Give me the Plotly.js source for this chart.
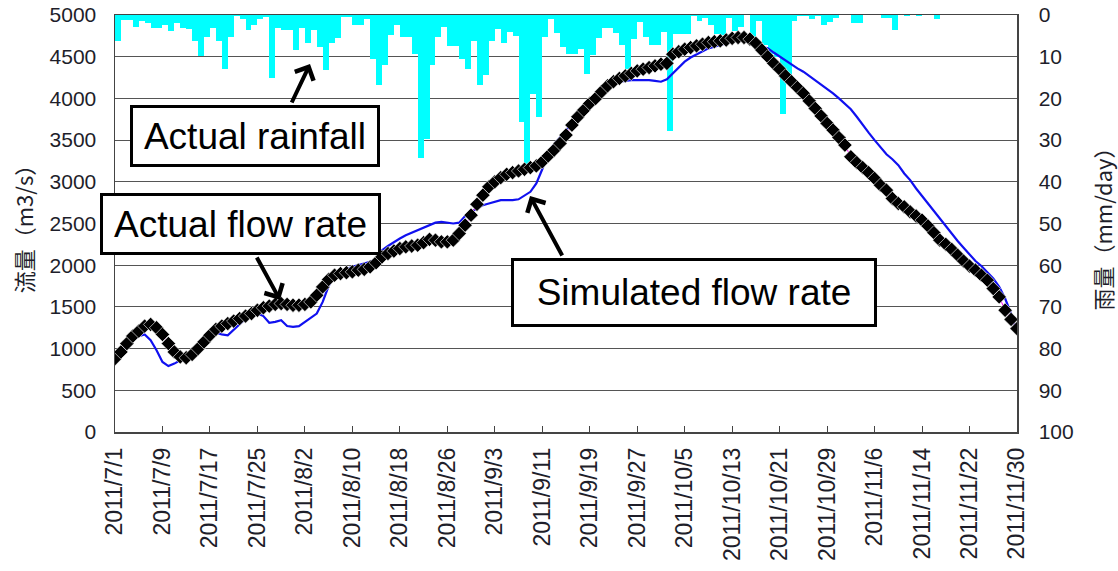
<!DOCTYPE html>
<html>
<head>
<meta charset="utf-8">
<script src="https://cdn.plot.ly/plotly-3.0.1.min.js"></script>
<style>html,body{margin:0;padding:0;background:#fff;}#chart{width:1118px;height:571px;}</style>
</head>
<body>
<div id="chart"></div>
<script>
// ---- data ----
const startDate = '2011-07-01';
const dayCount = 153;

// daily rainfall (mm/day), Jul 1 .. Nov 30
const rainfall = [
 6.2,1.2,1.2,2.9,1.4,1.8,3.1,3.0,2.4,3.9,
 2.0,3.0,3.4,6.2,9.8,5.3,3.0,6.2,12.9,5.3,
 0.3,1.0,3.6,2.5,1.0,0.4,15.0,3.0,3.6,3.6,
 8.4,3.0,6.7,3.6,7.7,13.1,6.7,5.5,0.5,0.5,
 2.3,2.3,1.0,10.5,16.9,12.1,4.9,2.5,5.3,5.3,
 9.3,34.2,29.7,12.1,5.3,2.9,7.5,7.5,10.5,12.9,
 6.3,16.9,14.5,6.3,3.3,6.6,4.1,5.0,25.7,36.4,
 18.9,24.5,5.3,1.0,4.4,7.7,9.3,9.3,8.2,14.2,
 9.5,5.5,3.1,3.1,4.2,7.1,13.0,5.7,1.7,5.3,
 7.1,7.1,4.1,27.7,4.5,4.5,4.5,0.2,1.5,0.7,
 2.5,4.5,4.7,0.7,3.9,2.9,0,6.1,1.5,7.3,
 9.3,10.1,23.7,16.5,1.5,0.3,0.3,1.0,0.2,2.3,
 1.7,0.7,0.1,0.1,1.8,1.8,0,0,0,0.7,
 0.7,3.7,0,0.2,0,0.2,0,0,1.0,0,
 0,0,0,0,0,0,0,0,0,0,
 0,0,0
];

// actual flow rate (m3/s)
const actualFlow = [
 880,960,1060,1150,1210,1270,1290,1250,1170,1060,
 960,900,890,930,1000,1080,1160,1230,1270,1300,
 1330,1360,1390,1420,1460,1490,1510,1530,1540,1530,
 1520,1520,1530,1560,1640,1740,1830,1880,1900,1910,
 1920,1940,1950,1980,2030,2100,2140,2170,2200,2220,
 2230,2240,2270,2310,2300,2280,2280,2300,2380,2480,
 2600,2730,2840,2940,3000,3050,3090,3110,3130,3150,
 3170,3190,3240,3310,3380,3460,3560,3680,3780,3860,
 3940,4000,4080,4150,4200,4240,4270,4300,4330,4350,
 4370,4390,4410,4420,4530,4560,4590,4610,4630,4650,
 4670,4680,4690,4700,4720,4730,4730,4710,4660,4580,
 4500,4420,4350,4270,4200,4130,4060,3970,3880,3790,
 3700,3620,3530,3440,3300,3230,3170,3110,3040,2960,
 2900,2800,2740,2700,2640,2590,2540,2470,2390,2300,
 2250,2190,2120,2050,1990,1940,1880,1820,1720,1620,
 1460,1350,1240
];

// simulated flow rate (m3/s)
const simulatedFlow = [
 880,950,1030,1100,1150,1170,1100,980,840,790,
 820,860,860,950,1050,1120,1170,1190,1170,1160,
 1230,1300,1360,1410,1420,1390,1310,1320,1340,1270,
 1260,1270,1320,1370,1420,1560,1750,1880,1920,1950,
 1980,2000,2020,2040,2070,2180,2230,2280,2320,2360,
 2390,2420,2450,2480,2510,2520,2510,2500,2510,2590,
 2640,2680,2720,2740,2760,2780,2780,2780,2790,2830,
 2880,2980,3150,3350,3450,3530,3620,3690,3770,3830,
 3880,3960,4040,4110,4170,4200,4210,4220,4220,4220,
 4220,4210,4200,4230,4300,4370,4440,4490,4530,4570,
 4600,4620,4640,4660,4680,4700,4690,4670,4650,4620,
 4600,4550,4500,4450,4400,4360,4320,4270,4220,4170,
 4120,4060,4000,3940,3870,3780,3680,3590,3500,3420,
 3330,3270,3200,3100,3020,2920,2830,2740,2640,2550,
 2460,2370,2290,2210,2130,2050,1990,1920,1840,1740,
 1600,1420,1190
];

const tickDates = ['2011-07-01','2011-07-09','2011-07-17','2011-07-25','2011-08-02','2011-08-10',
 '2011-08-18','2011-08-26','2011-09-03','2011-09-11','2011-09-19','2011-09-27','2011-10-05',
 '2011-10-13','2011-10-21','2011-10-29','2011-11-06','2011-11-14','2011-11-22','2011-11-30'];
const tickLabels = ['2011/7/1','2011/7/9','2011/7/17','2011/7/25','2011/8/2','2011/8/10',
 '2011/8/18','2011/8/26','2011/9/3','2011/9/11','2011/9/19','2011/9/27','2011/10/5',
 '2011/10/13','2011/10/21','2011/10/29','2011/11/6','2011/11/14','2011/11/22','2011/11/30'];

const flowTicks = [0,500,1000,1500,2000,2500,3000,3500,4000,4500,5000];
const rainTicks = [0,10,20,30,40,50,60,70,80,90,100];

// build daily date list
const dates = [];
{
  const d0 = new Date(startDate + 'T00:00:00Z');
  for (let i = 0; i < dayCount; i++) {
    const d = new Date(d0.getTime() + i * 86400000);
    dates.push(d.toISOString().slice(0, 10));
  }
}

const DAY = 86400000;
const tickFont = {family: 'Liberation Sans, Arial, sans-serif', size: 21, color: '#1e1e2a'};
const boxFont = {family: 'Liberation Sans, Arial, sans-serif', size: 37, color: '#000'};
const titleFont = {family: 'Noto Sans CJK JP, sans-serif', size: 22, color: '#1e1e2a'};

const traces = [
  {
    type: 'bar', x: dates, y: rainfall, yaxis: 'y',
    width: DAY, offset: 0,
    marker: {color: '#00ffff', line: {width: 0}},
    hoverinfo: 'skip'
  },
  {
    type: 'scatter', mode: 'lines', x: dates, y: simulatedFlow, yaxis: 'y2',
    line: {color: '#1010f0', width: 2.2}
  },
  {
    type: 'scatter', mode: 'lines+markers', x: dates, y: actualFlow, yaxis: 'y2',
    line: {color: '#ff00ff', width: 1},
    marker: {symbol: 'diamond', size: 11, color: '#000', line: {width: 0.6, color: '#ffffff'}}
  }
];

function px(x){ return (x - 115) / 902; }
function py(y){ return (432 - y) / 417; }

const annotations = [
  // arrows
  {xref:'paper', yref:'paper', x: px(310), y: py(64), ax: -19, ay: 40, text: '', showarrow: true,
   arrowhead: 4, arrowsize: 1, arrowwidth: 4, arrowcolor: '#000', standoff: 0},
  {xref:'paper', yref:'paper', x: px(280), y: py(300), ax: -24, ay: -44, text: '', showarrow: true,
   arrowhead: 4, arrowsize: 1, arrowwidth: 4, arrowcolor: '#000', standoff: 0},
  {xref:'paper', yref:'paper', x: px(530), y: py(196), ax: 33, ay: 61, text: '', showarrow: true,
   arrowhead: 4, arrowsize: 1, arrowwidth: 4, arrowcolor: '#000', standoff: 0},
  // boxes
  {xref:'paper', yref:'paper', x: px(255), y: py(136), text: 'Actual rainfall', showarrow: false,
   font: boxFont, bgcolor: '#fff', bordercolor: '#000', borderwidth: 3, borderpad: 0,
   width: 244, height: 56, xanchor: 'center', yanchor: 'middle'},
  {xref:'paper', yref:'paper', x: px(240.5), y: py(224), text: 'Actual flow rate', showarrow: false,
   font: boxFont, bgcolor: '#fff', bordercolor: '#000', borderwidth: 3, borderpad: 0,
   width: 275, height: 56, xanchor: 'center', yanchor: 'middle'},
  {xref:'paper', yref:'paper', x: px(694), y: py(292.5), text: 'Simulated flow rate', showarrow: false,
   font: boxFont, bgcolor: '#fff', bordercolor: '#000', borderwidth: 3, borderpad: 0,
   width: 360, height: 63, xanchor: 'center', yanchor: 'middle'}
];

const layout = {
  width: 1118, height: 571,
  margin: {l: 115, r: 101, t: 15, b: 139, pad: 0},
  paper_bgcolor: '#fff', plot_bgcolor: '#fff',
  showlegend: false,
  bargap: 0,
  xaxis: {
    type: 'date',
    range: [dates[0], dates[dates.length - 1]],
    tickvals: tickDates, ticktext: tickLabels,
    tickangle: -90, tickfont: Object.assign({}, tickFont, {size: 23}),
    ticks: 'inside', ticklen: 6, tickcolor: '#444',
    showgrid: false, showline: true, linecolor: '#444', linewidth: 1.5, mirror: true,
    ticklabelstandoff: 5, automargin: false
  },
  yaxis: {
    side: 'right', range: [100, 0], tickvals: rainTicks,
    tickfont: tickFont, showgrid: false, zeroline: false,
    showline: true, linecolor: '#444', linewidth: 1.5, ticks: '',
    ticklabelstandoff: 16,
    title: {text: '雨量（mm/day）', font: titleFont, standoff: 26},
    automargin: false
  },
  yaxis2: {
    overlaying: 'y', side: 'left', range: [0, 5000], tickvals: flowTicks,
    tickfont: tickFont, showgrid: true, gridcolor: '#555', gridwidth: 1, zeroline: false,
    showline: true, linecolor: '#444', linewidth: 1.5, ticks: '',
    ticklabelstandoff: 13,
    title: {text: '流量（m3/s）', font: titleFont, standoff: 10},
    automargin: false
  },
  annotations: annotations
};

Plotly.newPlot('chart', traces, layout, {displayModeBar: false, staticPlot: true});
</script>
</body>
</html>
